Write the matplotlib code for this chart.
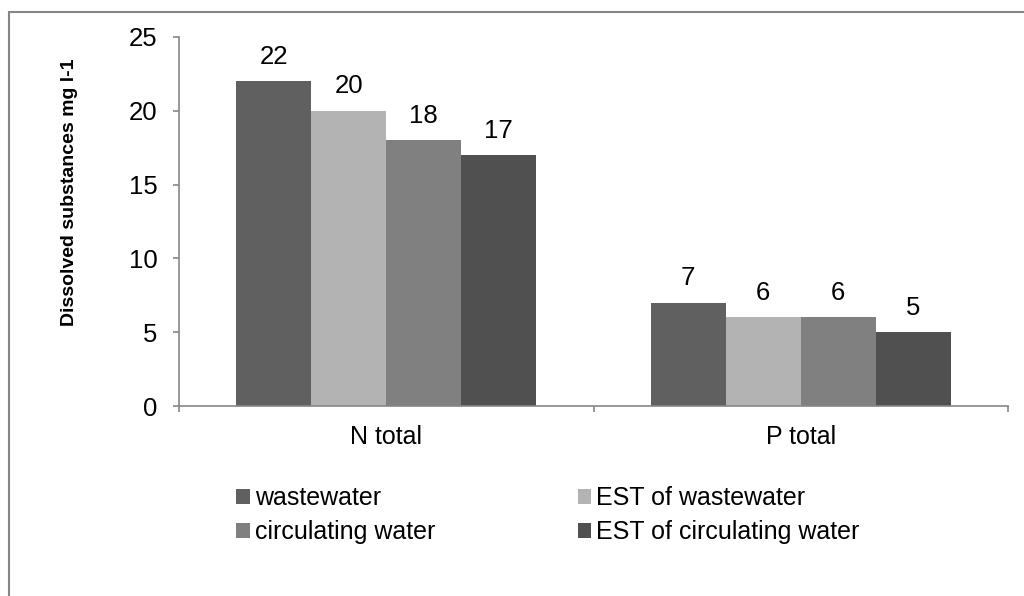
"""Dissolved N and P totals across water types."""

import matplotlib
matplotlib.use("Agg")
import matplotlib.pyplot as plt
from matplotlib.patches import Rectangle, Patch
import numpy as np

categories = ["N total", "P total"]
series_names = ["wastewater", "EST of wastewater", "circulating water", "EST of circulating water"]
wastewater = [22, 7]
est_wastewater = [20, 6]
circulating = [18, 6]
est_circulating = [17, 5]
colors = ["#606060", "#b3b3b3", "#808080", "#505050"]

plt.rcParams["font.family"] = ["Liberation Sans", "DejaVu Sans"]

fig = plt.figure(figsize=(10.24, 5.96), dpi=100)
ax = fig.add_axes([179 / 1024, 1 - 406 / 596, (1008 - 179) / 1024, (406 - 37) / 596])

# outer frame
fig.patches.append(Rectangle((9 / 1024, -0.1), 1.2, 1 - 12 / 596 + 0.1,
                             transform=fig.transFigure, fill=False,
                             edgecolor="#868686", linewidth=1.5))

x = np.arange(len(categories))
width = 0.181
series = [wastewater, est_wastewater, circulating, est_circulating]
for i, (vals, col) in enumerate(zip(series, colors)):
    pos = x + (i - 1.5) * width
    bars = ax.bar(pos, vals, width, color=col, label=series_names[i])
    for b, v in zip(bars, vals):
        ax.annotate(str(v), (b.get_x() + b.get_width() / 2, v),
                    xytext=(0, 9), textcoords="offset points",
                    ha="center", va="bottom", fontsize=18.5)

ax.set_xlim(-0.5, 1.5)
ax.set_ylim(0, 25)
ax.set_yticks(range(0, 26, 5))
ax.set_xticks(x)
ax.set_xticklabels(categories)
ax.set_xticks([-0.5, 0.5, 1.5], minor=True)
ax.tick_params(axis="x", which="major", length=0, labelsize=18, pad=14)
ax.tick_params(axis="x", which="minor", length=4.5, color="#868686", width=1.2)
ax.tick_params(axis="y", length=4.5, color="#868686", width=1.2, labelsize=18.5, pad=11)

for side in ["top", "right"]:
    ax.spines[side].set_visible(False)
for side in ["left", "bottom"]:
    ax.spines[side].set_color("#868686")
    ax.spines[side].set_linewidth(1.2)

ax.set_ylabel("Dissolved substances mg l-1", fontsize=14, fontweight="bold")
ax.yaxis.set_label_coords(-0.122, 0.58)

order = [0, 2, 1, 3]
handles = [Patch(facecolor=colors[i], label=series_names[i]) for i in order]
fig.legend(handles=handles, ncol=2, frameon=False, fontsize=18,
           loc="upper left", bbox_to_anchor=(226 / 1024, 1 - 476 / 596),
           handlelength=0.55, handleheight=0.55, handletextpad=0.2,
           columnspacing=5.7, labelspacing=0.4, borderaxespad=0)

fig.savefig("out.png", dpi=100)
